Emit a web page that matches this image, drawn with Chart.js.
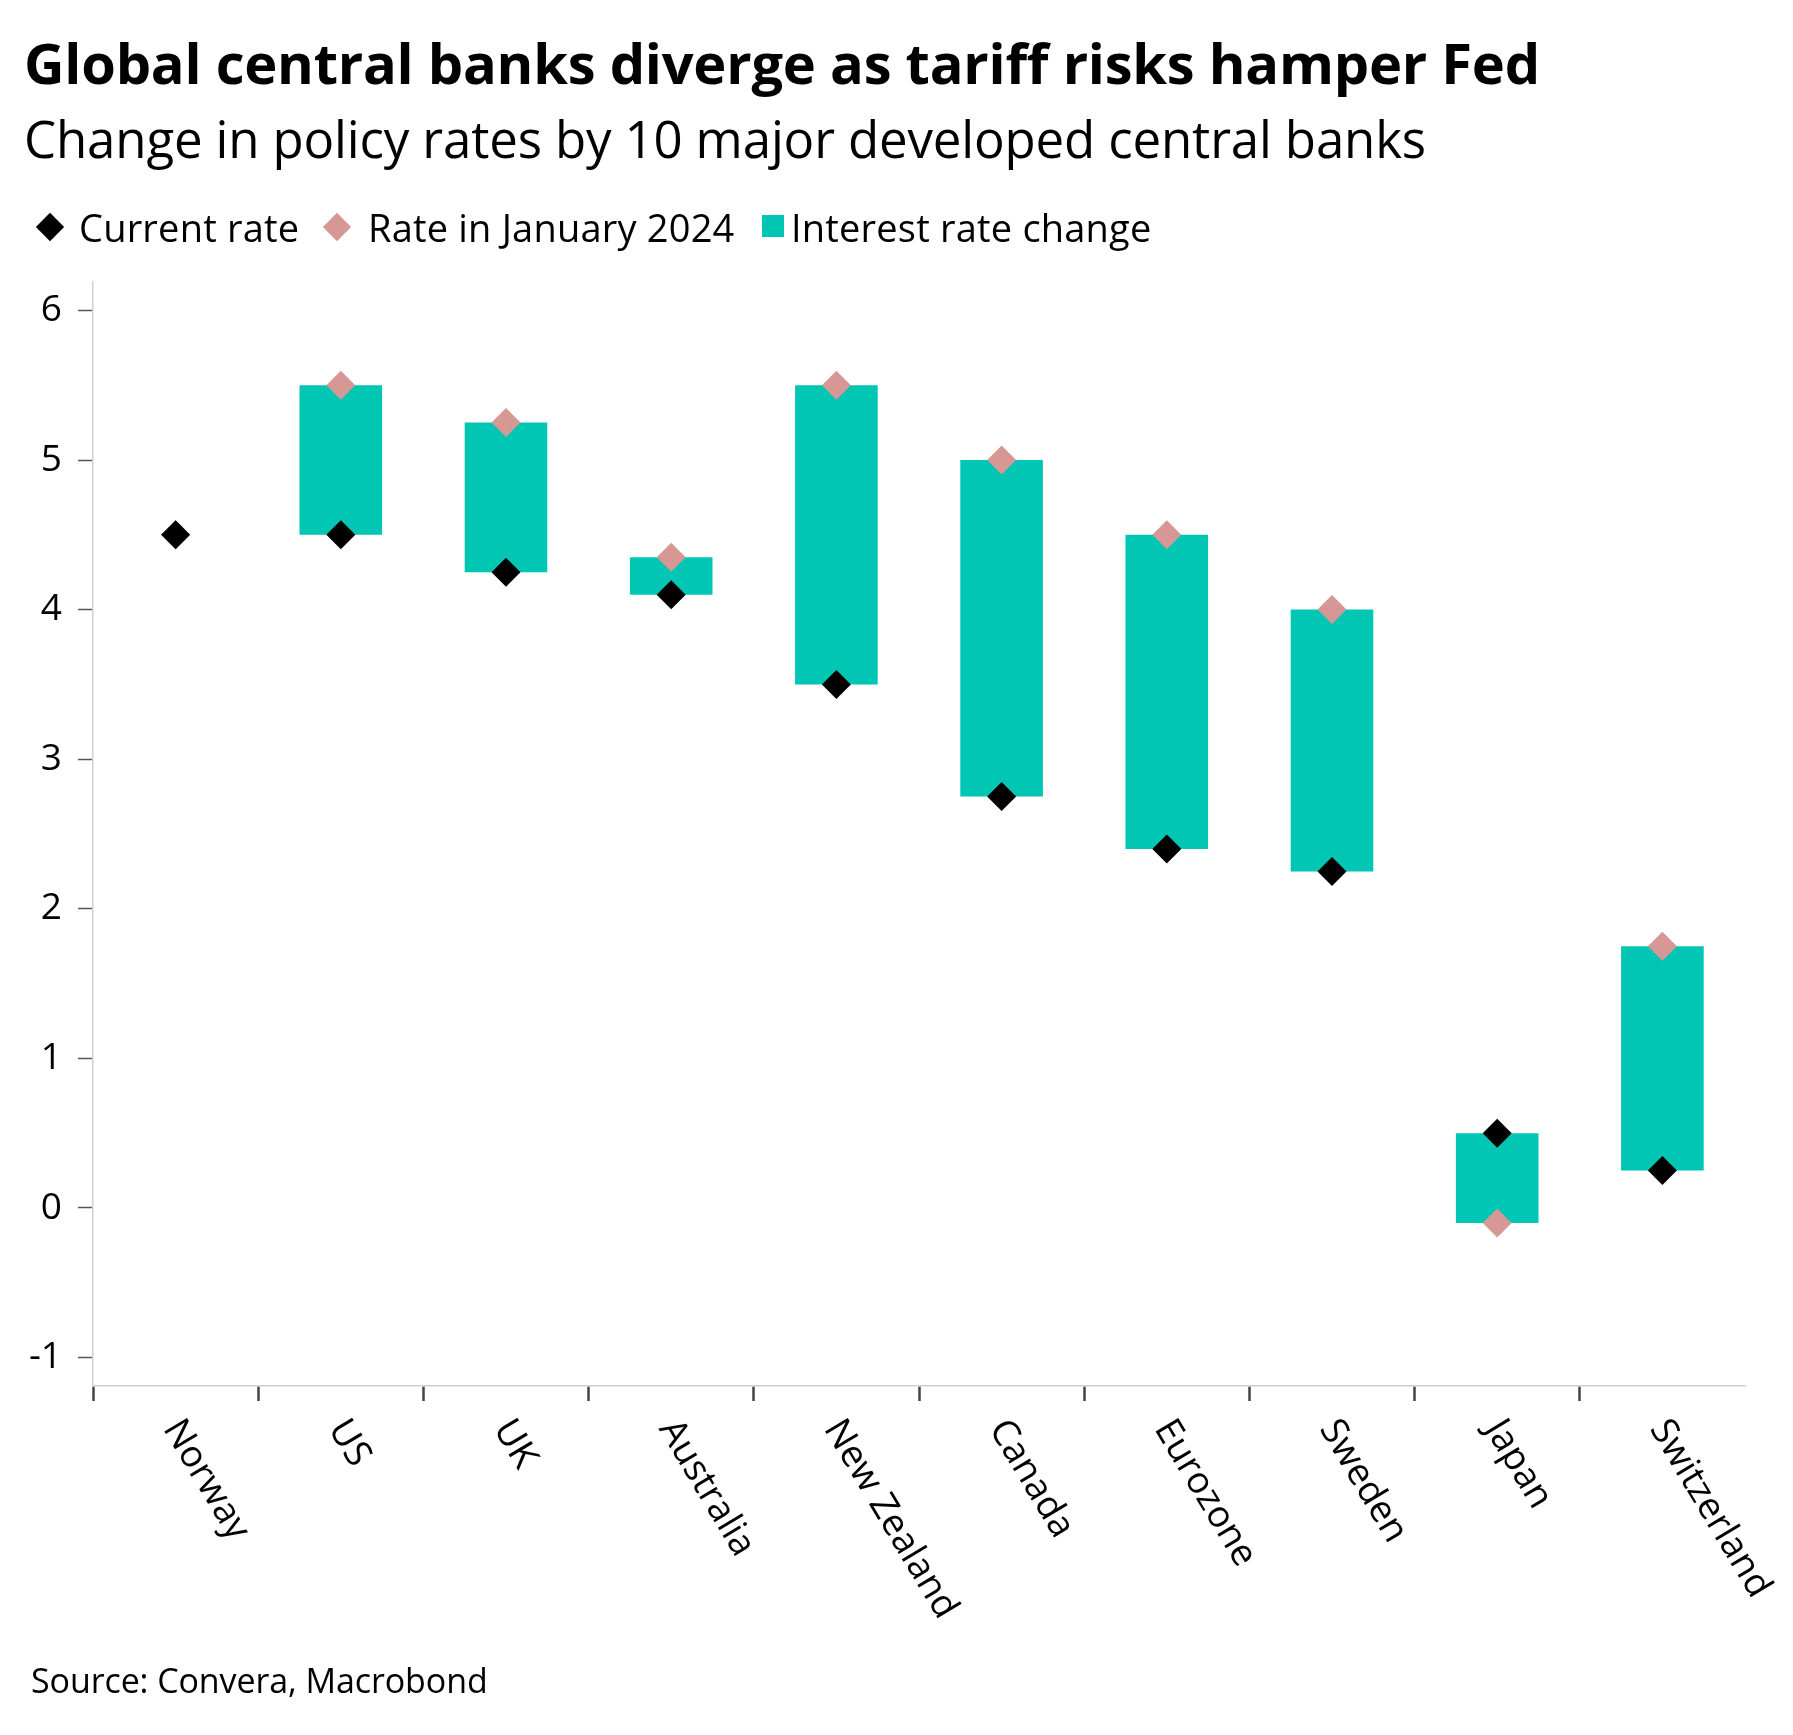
<!DOCTYPE html>
<html>
<head>
<meta charset="utf-8">
<script src="https://cdn.jsdelivr.net/npm/chart.js@4"></script>
<style>
  body { margin: 0; background: #fff; font-family: "Open Sans", sans-serif; color: #000; }
  #page { position: relative; width: 1793px; height: 1735px; overflow: hidden; }
  .txt { position: absolute; white-space: nowrap; line-height: normal; }
  .diamond { position: absolute; width: 20px; height: 20px; transform: rotate(45deg); }
  #chart-wrap { position: absolute; left: 0; top: 0; width: 1793px; height: 1735px; }
</style>
</head>
<body>
<div id="page">
  <div id="chart-wrap"><canvas id="rateChart"></canvas></div>
</div>
<script>
// Data
const banks = ['Norway', 'US', 'UK', 'Australia', 'New Zealand', 'Canada', 'Eurozone', 'Sweden', 'Japan', 'Switzerland'];
const currentRate = [4.5, 4.5, 4.25, 4.1, 3.5, 2.75, 2.4, 2.25, 0.5, 0.25];
const janRate = [4.5, 5.5, 5.25, 4.35, 5.5, 5.0, 4.5, 4.0, -0.1, 1.75];
const yTicks = [-1, 0, 1, 2, 3, 4, 5, 6];

const TEAL = '#00c6b3';
const PINK = '#d69795';
const BLACK = '#000000';
const FONT = '"Open Sans", sans-serif';

const page = document.getElementById('page');

// place text so its baseline lands on y (Open Sans ascent = 1.069em)
const addText = (str, x, baseline, size, weight, spacing) => {
    const el = document.createElement('div');
    el.className = 'txt';
    el.textContent = str;
    el.style.left = x + 'px';
    el.style.top = (baseline - size * 1.069) + 'px';
    el.style.fontSize = size + 'px';
    el.style.fontWeight = weight || 400;
    if (spacing) el.style.letterSpacing = spacing + 'px';
    page.appendChild(el);
    return el;
};

addText('Global central banks diverge as tariff risks hamper Fed', 24, 84, 56, 700, -0.22);
addText('Change in policy rates by 10 major developed central banks', 24, 158, 51, 400, -0.15);
addText('Source: Convera, Macrobond', 31, 1693, 34, 400, -0.1);

// legend
const legendItems = [
    { label: 'Current rate', color: BLACK, shape: 'diamond', cx: 50, tx: 79 },
    { label: 'Rate in January 2024', color: PINK, shape: 'diamond', cx: 337, tx: 368 },
    { label: 'Interest rate change', color: TEAL, shape: 'square', cx: 773, tx: 791 }
];
legendItems.forEach(item => {
    const m = document.createElement('div');
    if (item.shape === 'diamond') {
        m.className = 'diamond';
        m.style.left = (item.cx - 10) + 'px';
        m.style.top = (226.5 - 10) + 'px';
    } else {
        m.style.position = 'absolute';
        m.style.width = '22px';
        m.style.height = '22px';
        m.style.left = (item.cx - 11) + 'px';
        m.style.top = '215px';
    }
    m.style.background = item.color;
    page.appendChild(m);
    addText(item.label, item.tx, 242, 38, 400, 0.2);
});

// rotated category labels, drawn below the axis from the scale's own positions
const xLabelPlugin = {
    id: 'xLabels',
    afterDraw(chart) {
        const ctx = chart.ctx;
        const xs = chart.scales.x;
        ctx.save();
        ctx.fillStyle = '#000';
        ctx.font = '37px ' + FONT;
        ctx.textAlign = 'left';
        ctx.textBaseline = 'middle';
        banks.forEach((b, i) => {
            const x = xs.getPixelForValue(i) - 4;
            ctx.save();
            ctx.translate(x, 1423);
            ctx.rotate(59 * Math.PI / 180);
            ctx.fillText(b, 0, 0);
            ctx.restore();
        });
        ctx.restore();
    }
};

new Chart(document.getElementById('rateChart'), {
    data: {
        labels: banks,
        datasets: [
            {
                type: 'line',
                label: 'Current rate',
                data: currentRate,
                showLine: false,
                pointStyle: 'rectRot',
                pointRadius: 14.5,
                pointBorderWidth: 0,
                pointBackgroundColor: BLACK,
                order: 0
            },
            {
                type: 'line',
                label: 'Rate in January 2024',
                data: janRate,
                showLine: false,
                pointStyle: 'rectRot',
                pointRadius: 14.5,
                pointBorderWidth: 0,
                pointBackgroundColor: PINK,
                order: 1
            },
            {
                type: 'bar',
                label: 'Interest rate change',
                data: banks.map((b, i) => [currentRate[i], janRate[i]]),
                backgroundColor: TEAL,
                borderWidth: 0,
                barPercentage: 0.5,
                categoryPercentage: 1,
                order: 2
            }
        ]
    },
    options: {
        responsive: true,
        maintainAspectRatio: false,
        animation: false,
        devicePixelRatio: 1,
        layout: { padding: { top: 282, right: 48, left: 0, bottom: 0 } },
        plugins: { legend: { display: false }, tooltip: { enabled: false } },
        scales: {
            x: {
                type: 'category',
                offset: true,
                grid: {
                    offset: true,
                    drawOnChartArea: false,
                    drawTicks: true,
                    tickLength: 15,
                    tickWidth: 2.5,
                    tickColor: c => c.type === 'tick' ? '#444' : 'rgba(0,0,0,0)'
                },
                border: { display: true, color: '#d0d0d0', width: 1.5 },
                ticks: { display: false },
                afterFit: s => { s.height = 349; }
            },
            y: {
                min: -1.19,
                max: 6.19,
                afterBuildTicks: s => { s.ticks = yTicks.map(v => ({ value: v })); },
                grid: { drawOnChartArea: false, tickLength: 15, tickColor: '#555', tickWidth: 1.5 },
                border: { display: true, color: '#d0d0d0', width: 1.5 },
                ticks: { padding: 16, color: '#000', font: { size: 37, family: FONT } },
                afterFit: s => { s.width = 93; }
            }
        }
    },
    plugins: [xLabelPlugin]
});
</script>
</body>
</html>
